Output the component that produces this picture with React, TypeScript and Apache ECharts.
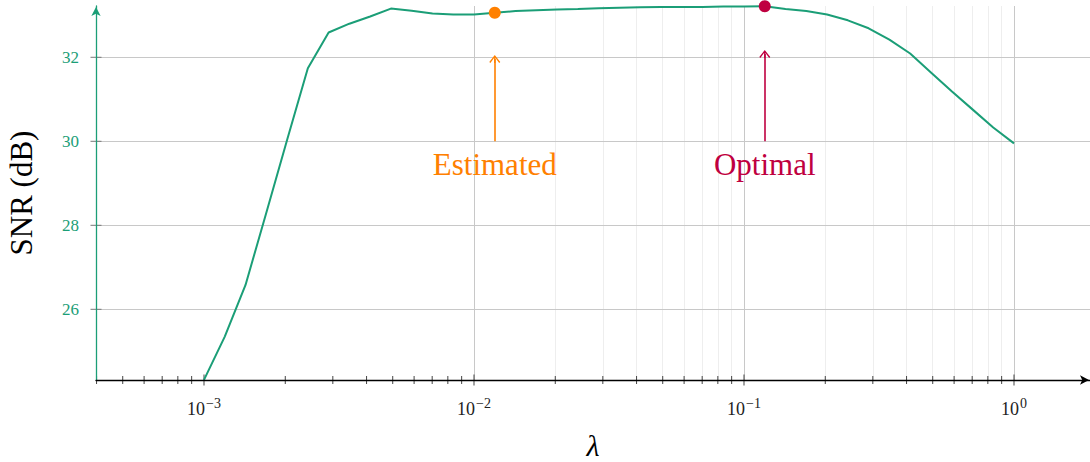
import React, { useEffect, useRef } from "react";
import * as echarts from "echarts";

// lambda sample points (log-spaced samples)
const lambdaValues = [
  0.001, 0.0011938, 0.0014251, 0.0017013, 0.0020309, 0.0024245, 0.0028943, 0.0034551,
  0.0041246, 0.0049239, 0.005878, 0.007017, 0.0083768, 0.01, 0.011938, 0.014251,
  0.017013, 0.020309, 0.024245, 0.028943, 0.034551, 0.041246, 0.049239, 0.05878,
  0.07017, 0.083768, 0.1, 0.11938, 0.14251, 0.17013, 0.20309, 0.24245,
  0.28943, 0.34551, 0.41246, 0.49239, 0.5878, 0.7017, 0.83768, 1.0,
];
// SNR (dB)
const snrValues = [
  24.32, 25.35, 26.58, 28.3, 30.03, 31.74, 32.59, 32.8,
  32.97, 33.16, 33.11, 33.04, 33.02, 33.02, 33.06, 33.1,
  33.12, 33.14, 33.15, 33.17, 33.18, 33.19, 33.2, 33.2,
  33.2, 33.21, 33.21, 33.215, 33.15, 33.1, 33.02, 32.88,
  32.69, 32.42, 32.09, 31.64, 31.19, 30.76, 30.33, 29.95,
];

const estimatedIndex = 14;
const optimalIndex = 27;

const majorXTicks = [0.001, 0.01, 0.1, 1];
const minorXTicks = [
  0.0004, 0.0005, 0.0006, 0.0007, 0.0008, 0.0009,
  0.002, 0.003, 0.004, 0.005, 0.006, 0.007, 0.008, 0.009,
  0.02, 0.03, 0.04, 0.05, 0.06, 0.07, 0.08, 0.09,
  0.2, 0.3, 0.4, 0.5, 0.6, 0.7, 0.8, 0.9,
];
const minorXGrid = minorXTicks.filter((v) => v > 0.00045);
const yTicks = [26, 28, 30, 32];

const xMin = 0.00039811;
const xMax = 1.912;
const yMin = 24.317;
const yMax = 33.221;

const arrowBase = 30;
const estimatedArrowTip = 31.96;
const optimalArrowTip = 32.08;
const annotationY = 29.45;

const GREEN = "#1b9e77";
const ORANGE = "#ff8000";
const PURPLE = "#bf0040";
const FONT = "Liberation Serif";

const arrowHead =
  "path://M5,0 L10,8 L9,9 L5,2.4 L1,9 L0,8 Z M4.4,1 L5.6,1 L5.6,9 L4.4,9 Z";

export default function App() {
  const ref = useRef<HTMLDivElement>(null);

  useEffect(() => {
    if (!ref.current) return;
    const chart = echarts.init(ref.current, undefined, { renderer: "svg" });

    const curve = lambdaValues.map((x, i) => [x, snrValues[i]]);
    const est = [lambdaValues[estimatedIndex], snrValues[estimatedIndex]];
    const opt = [lambdaValues[optimalIndex], snrValues[optimalIndex]];

    const option: any = {
      animation: false,
      textStyle: { fontFamily: FONT },
      grid: {
        left: 96,
        right: 0,
        top: 6,
        bottom: 82,
        containLabel: false,
        outerBoundsMode: "none",
      },
      xAxis: {
        type: "log",
        logBase: 10,
        min: xMin,
        max: xMax,
        z: 20,
        axisLine: {
          onZero: false,
          lineStyle: { color: "#000", width: 1.3 },
          symbol: ["none", "arrow"],
          symbolSize: [7, 9],
          symbolOffset: [0, -1],
        },
        axisTick: { show: false },
        minorTick: { show: false },
        splitLine: { show: false },
        axisLabel: {
          margin: 16,
          color: "#222",
          formatter: (v: number) => {
            const e = Math.log10(v);
            if (Math.abs(e - Math.round(e)) > 1e-6) return "";
            const r = Math.round(e);
            const s = r < 0 ? "\u2212" + Math.abs(r) : String(r);
            return "{b|10}{s|" + s + "}";
          },
          rich: {
            b: { fontSize: 18, fontFamily: FONT, color: "#222", lineHeight: 26 },
            s: {
              fontSize: 14,
              fontFamily: FONT,
              color: "#222",
              lineHeight: 14,
              padding: [0, 0, 11, 1],
            },
          },
        },
        name: "\u03bb",
        nameLocation: "middle",
        nameGap: 50,
        nameTextStyle: {
          fontSize: 30,
          fontStyle: "italic",
          fontFamily: FONT,
          color: "#000",
        },
      },
      yAxis: {
        type: "value",
        min: yMin,
        max: yMax,
        z: 20,
        axisLine: {
          show: true,
          onZero: false,
          lineStyle: { color: GREEN, width: 1.3 },
          symbol: ["none", "arrow"],
          symbolSize: [7, 9],
          symbolOffset: [0, -1],
        },
        axisTick: { show: false },
        splitLine: { show: false },
        axisLabel: {
          margin: 17,
          color: GREEN,
          fontSize: 17,
          fontFamily: FONT,
          formatter: (v: number) => {
            const r = Math.round(v);
            if (Math.abs(v - r) > 1e-6) return "";
            return yTicks.indexOf(r) >= 0 ? String(r) : "";
          },
        },
        name: "SNR (dB)",
        nameLocation: "middle",
        nameGap: 59,
        nameTextStyle: { fontSize: 31, fontFamily: FONT, color: "#000" },
      },
      series: [
        {
          name: "minor",
          type: "scatter",
          z: 2,
          clip: false,
          silent: true,
          symbol: "rect",
          symbolSize: [1, 8],
          itemStyle: { color: "#444", opacity: 1 },
          data: minorXTicks.map((v) => [v, yMin]),
          markLine: {
            silent: true,
            z: 1,
            symbol: ["none", "none"],
            label: { show: false },
            lineStyle: { color: "#eeeeee", width: 1, type: "solid" },
            data: minorXGrid.map((v) => ({ xAxis: v })),
          },
        },
        {
          name: "major",
          type: "scatter",
          z: 2,
          clip: false,
          silent: true,
          symbol: "rect",
          symbolSize: [1, 11],
          itemStyle: { color: "#444", opacity: 1 },
          data: majorXTicks.map((v) => [v, yMin]),
          markLine: {
            silent: true,
            z: 1,
            symbol: ["none", "none"],
            label: { show: false },
            lineStyle: { color: "#c8c8c8", width: 1, type: "solid" },
            data: [
              ...majorXTicks.map((v) => ({ xAxis: v })),
              ...yTicks.map((v) => ({ yAxis: v })),
            ],
          },
        },
        {
          name: "yticks",
          type: "scatter",
          z: 2,
          clip: false,
          silent: true,
          symbol: "rect",
          symbolSize: [11, 1],
          itemStyle: { color: "#777", opacity: 1 },
          data: yTicks.map((v) => [xMin, v]),
        },
        {
          name: "SNR",
          type: "line",
          z: 10,
          showSymbol: false,
          clip: false,
          lineStyle: { color: GREEN, width: 2 },
          data: curve,
        },
        {
          name: "Estimated",
          type: "scatter",
          z: 12,
          clip: false,
          symbolSize: 12,
          itemStyle: { color: ORANGE, opacity: 1 },
          data: [est],
          markLine: {
            silent: true,
            z: 12,
            symbol: ["none", arrowHead],
            symbolSize: [11, 8],
            label: { show: false },
            lineStyle: { color: ORANGE, width: 1.6, type: "solid", opacity: 1 },
            data: [[{ coord: [est[0], arrowBase] }, { coord: [est[0], estimatedArrowTip] }]],
          },
        },
        {
          name: "Optimal",
          type: "scatter",
          z: 12,
          clip: false,
          symbolSize: 12,
          itemStyle: { color: PURPLE, opacity: 1 },
          data: [opt],
          markLine: {
            silent: true,
            z: 12,
            symbol: ["none", arrowHead],
            symbolSize: [11, 8],
            label: { show: false },
            lineStyle: { color: PURPLE, width: 1.6, type: "solid", opacity: 1 },
            data: [[{ coord: [opt[0], arrowBase] }, { coord: [opt[0], optimalArrowTip] }]],
          },
        },
        {
          name: "labels",
          type: "scatter",
          z: 12,
          silent: true,
          clip: false,
          symbolSize: 1,
          itemStyle: { color: "transparent", opacity: 1 },
          label: {
            show: true,
            position: "inside",
            fontSize: 31,
            fontFamily: FONT,
            opacity: 1,
          },
          data: [
            {
              value: [est[0], annotationY],
              label: { formatter: "Estimated", color: ORANGE },
            },
            {
              value: [opt[0], annotationY],
              label: { formatter: "Optimal", color: PURPLE },
            },
          ],
        },
      ],
    };

    chart.setOption(option);
    return () => chart.dispose();
  }, []);

  return (
    <div
      ref={ref}
      style={{ position: "fixed", left: 0, top: 0, width: 1090, height: 462, background: "#fff" }}
    />
  );
}
